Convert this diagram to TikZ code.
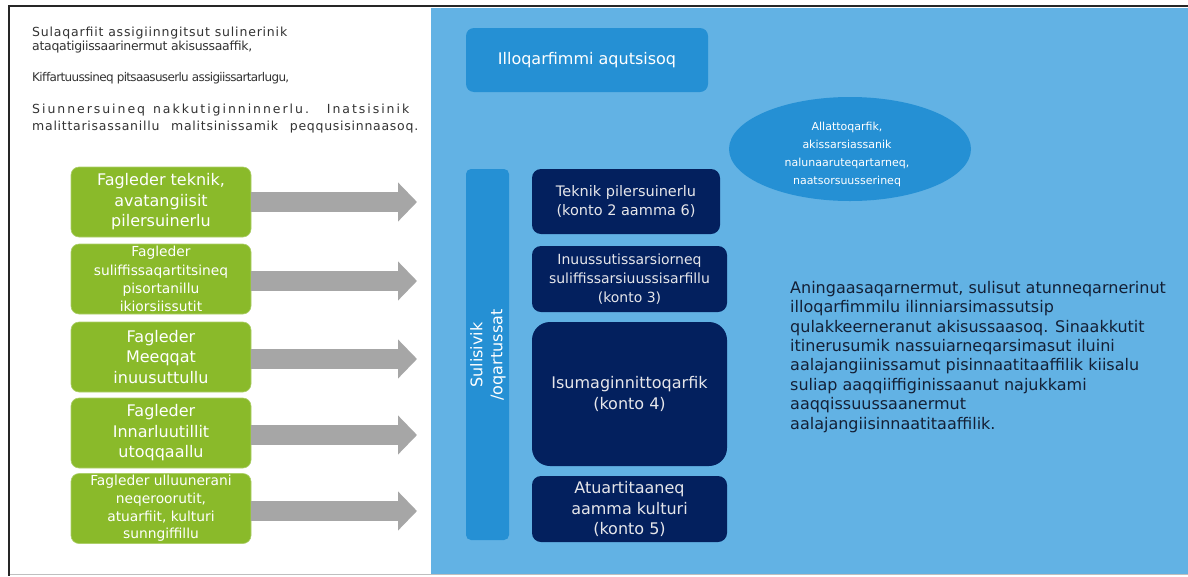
\documentclass[tikz,border=0pt]{standalone}
\usepackage{fontspec}
\setmainfont{DejaVu Sans}
\usetikzlibrary{arrows.meta,shapes.geometric}
\definecolor{gfill}{HTML}{8ABA2A}
\definecolor{garrow}{HTML}{A6A6A6}
\definecolor{lblue}{HTML}{62B2E4}
\definecolor{mblue}{HTML}{2590D4}
\definecolor{navy}{HTML}{03205E}
\definecolor{paratext}{HTML}{142036}
\definecolor{toptext}{HTML}{333333}
\definecolor{navytext}{HTML}{E6E6EA}
\newlength\flA
\newlength\flB
\newcommand\fitline[3][0pt]{%
  \settowidth\flA{\spaceskip=\dimexpr\fontdimen2\font+#1\relax#3}%
  \settowidth\flB{\addfontfeature{LetterSpace=10}\spaceskip=\dimexpr\fontdimen2\font+#1\relax#3}%
  \pgfmathsetmacro\flLS{10*(#2-\flA)/(\flB-\flA)}%
  \makebox[#2][l]{\addfontfeature{LetterSpace=\flLS}\spaceskip=\dimexpr\fontdimen2\font+#1\relax#3}}
\tikzset{
  gbox/.style={fill=gfill, draw=gfill!70!white, line width=0.6pt, rounded corners=8pt, text=white, align=center, minimum width=180pt, minimum height=70pt, inner sep=1pt},
  nbox/.style={fill=navy, rounded corners=9pt, text=navytext, align=center, inner sep=1pt},
  mbox/.style={fill=mblue, rounded corners=8pt, text=white, align=center, inner sep=1pt},
  bigarrow/.style={draw=garrow, line width=20pt, -{Triangle[length=19pt,width=38pt]}},
  intro/.style={anchor=west, text=toptext, inner sep=0pt, font=\fontsize{12.5}{14}\selectfont},
}
\begin{document}
\begin{tikzpicture}[x=1pt,y=-1pt]
\useasboundingbox (0,0) rectangle (1188,576);
\fill[white] (0,0) rectangle (1188,576);
% blue panel
\fill[lblue] (431,8) rectangle (1188,574);
% frame lines
\draw[black!85, line width=2.5pt] (8,6) -- (1188,6);
\draw[black!85, line width=2.5pt] (9,5) -- (9,576);
\draw[black!25, line width=0.8pt] (10,574.5) -- (1188,574.5);

% top-left text
\node[intro] (t1) at (32,33) {\fitline{255pt}{Sulaqarfiit assigiinngitsut sulinerinik}};
\node[intro] (t2) at (32,47) {\fitline{220pt}{ataqatigiissaarinermut akisussaaffik,}};
\node[intro, font=\fontsize{12}{13}\selectfont] (t3) at (32,78) {\fitline{257pt}{Kiffartuussineq pitsaasuserlu assigiissartarlugu,}};
\node[intro] (t4) at (32,110) {\fitline[2pt]{377pt}{Siunnersuineq nakkutiginninnerlu.\hspace{8pt} Inatsisinik}};
\node[intro] (t5) at (32,127) {\fitline[7pt]{386pt}{malittarisassanillu malitsinissamik peqqusisinnaasoq.}};

% green boxes
\node[gbox, font=\fontsize{16}{20.5}\selectfont] (g1) at (161,202) {Fagleder teknik,\\avatangiisit\\pilersuinerlu};
\node[gbox, font=\fontsize{13.8}{18.3}\selectfont] (g2) at (161,279) {Fagleder\\suliffissaqartitsineq\\pisortanillu\\ikiorsiissutit};
\node[gbox, font=\fontsize{16}{20.5}\selectfont] (g3) at (161,357) {Fagleder\\Meeqqat\\inuusuttullu};
\node[gbox, font=\fontsize{16}{20.5}\selectfont] (g4) at (161,433) {Fagleder\\Innarluutillit\\utoqqaallu};
\node[gbox, font=\fontsize{13.8}{17.7}\selectfont] (g5) at (161,508.5) {Fagleder ulluunerani\\neqeroorutit,\\atuarfiit, kulturi\\sunngiffillu};

% arrows
\coordinate (a1) at (417,202);
\coordinate (a2) at (417,281);
\coordinate (a3) at (417,359);
\coordinate (a4) at (417,435);
\coordinate (a5) at (417,511);
\draw[bigarrow] (g1.east) -- (a1);
\draw[bigarrow] (g2.east |- a2) -- (a2);
\draw[bigarrow] (g3.east |- a3) -- (a3);
\draw[bigarrow] (g4.east |- a4) -- (a4);
\draw[bigarrow] (g5.east |- a5) -- (a5);

% header
\node[mbox, minimum width=242pt, minimum height=64pt, font=\fontsize{16}{20}\selectfont] (head) at (587,60) {Illoqarfimmi aqutsisoq};

% ellipse
\node[ellipse, fill=mblue, minimum width=242pt, minimum height=104pt, inner sep=0pt] (ell) at (850,149) {};
\node[text=white, align=center, inner sep=0pt, font=\fontsize{11}{18}\selectfont] (elltext) at (847,154)
 {Allattoqarfik,\\akissarsiassanik\\nalunaaruteqartarneq,\\naatsorsuusserineq};

% vertical bar
\node[mbox, rounded corners=5pt, minimum width=43pt, minimum height=371pt] (bar) at (487.5,354.5) {};
\node[rotate=90, text=white, align=center, inner sep=0pt, font=\fontsize{16}{20}\selectfont] (bartext) at (488,355) {Sulisivik\\/oqartussat};

% navy boxes
\node[nbox, minimum width=188pt, minimum height=65pt, font=\fontsize{14.5}{19}\selectfont] (n1) at (626,201.5) {Teknik pilersuinerlu\\(konto 2 aamma 6)};
\node[nbox, minimum width=195pt, minimum height=66pt, font=\fontsize{14}{19}\selectfont] (n2) at (629.5,279) {Inuussutissarsiorneq\\suliffissarsiuussisarfillu\\(konto 3)};
\node[nbox, rounded corners=18pt, minimum width=195pt, minimum height=144pt, font=\fontsize{16}{21}\selectfont] (n3) at (629.5,394) {Isumaginnittoqarfik\\(konto 4)};
\node[nbox, minimum width=195pt, minimum height=66pt, font=\fontsize{16}{20.5}\selectfont] (n4) at (629.5,509) {Atuartitaaneq\\aamma kulturi\\(konto 5)};

% right paragraph
\node[anchor=north west, text=paratext, align=left, inner sep=0pt,
      font=\fontsize{16}{19.4}\selectfont] (para) at (790,281)
 {Aningaasaqarnermut, sulisut atunneqarnerinut\\
  illoqarfimmilu ilinniarsimassutsip\\
  qulakkeerneranut akisussaasoq. Sinaakkutit\\
  itinerusumik nassuiarneqarsimasut iluini\\
  aalajangiinissamut pisinnaatitaaffilik kiisalu\\
  suliap aaqqiiffiginissaanut najukkami\\
  aaqqissuussaanermut\\
  aalajangiisinnaatitaaffilik.};
\end{tikzpicture}
\end{document}
